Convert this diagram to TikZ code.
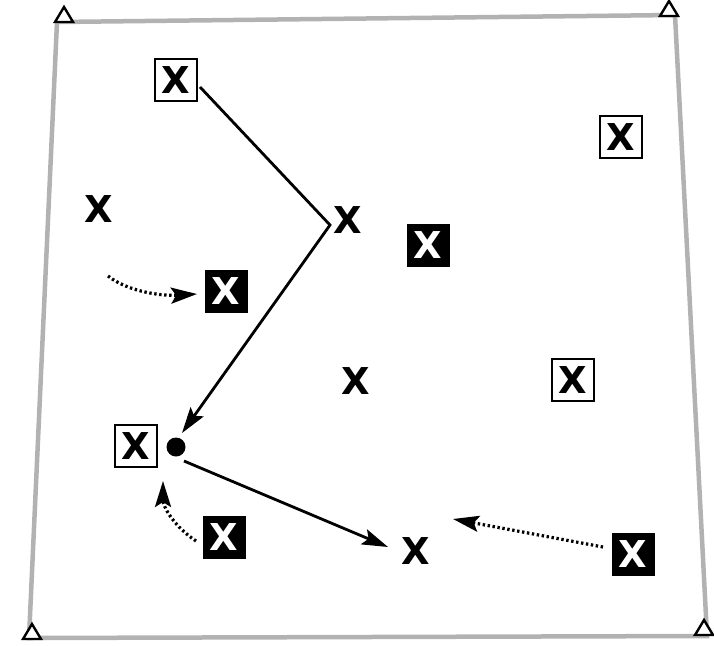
\documentclass[tikz,border=0pt]{standalone}
\usepackage{fontspec}
\newfontfamily\xfont{DejaVu Sans}
\usetikzlibrary{arrows.meta,calc}
\begin{document}
\begin{tikzpicture}[x=1pt,y=-1pt,
  field/.style={draw=gray!60,line width=4.5pt,line join=miter},
  conetri/.style={line width=2.4pt,fill=white,line join=miter},
  xmark/.style={font=\xfont\bfseries\fontsize{37}{37}\selectfont,inner sep=0pt},
  attbox/.style={xmark,draw=black,line width=1.3pt,minimum size=42pt,fill=white},
  defbox/.style={xmark,text=white,fill=black,draw=black,minimum size=42pt},
  freex/.style={xmark},
  headtip/.tip={Stealth[length=26pt,width=16pt,inset=5pt]},
  runline/.style={line width=2.8pt,-headtip},
  passline/.style={line width=3.2pt,dash pattern=on 2.4pt off 2.6pt,-headtip}
]
\useasboundingbox (0,0) rectangle (714,645);
% field
\coordinate (tl) at (57,22);
\coordinate (tr) at (675,15);
\coordinate (br) at (707,636);
\coordinate (bl) at (29,638);
\draw[field] (tl) -- (tr) -- (br) -- (bl) -- cycle;
% cones
\foreach \p in {(64,15),(669,9),(32,632),(704,628)}{
  \draw[conetri] \p ++(0,-8) -- ++(9,15) -- ++(-18,0) -- cycle;
}
% attackers in outlined boxes
\node[attbox] (a1) at (176,80) {X};
\node[attbox] (a2) at (621,137) {X};
\node[attbox] (a3) at (573,380) {X};
\node[attbox] (a4) at (136,446) {X};
% defenders in black boxes
\node[defbox] (d1) at (226,291) {X};
\node[defbox] (d2) at (428,245) {X};
\node[defbox] (d3) at (224,537) {X};
\node[defbox] (d4) at (633,554) {X};
% free players
\node[freex] (f1) at (99,209) {X};
\node[freex] (f2) at (348,220) {X};
\node[freex] (f3) at (356,381) {X};
\node[freex] (f4) at (416,551) {X};
% ball
\node[circle,fill=black,minimum size=19pt,inner sep=0pt] (ball) at (176,447) {};
% runs
\coordinate (s1) at (200,87);
\coordinate (turn) at (330,225);
\coordinate (r2) at (388,547);
\draw[runline] (s1) -- (turn) -- ($(ball)+(6,-14)$);
\draw[runline] ($(ball)+(8,14)$) -- (r2);
% passes / movements
\coordinate (p1s) at (108,276);
\coordinate (p1e) at (197,294);
\draw[passline] (p1s) .. controls (130,293) and (165,296) .. (p1e);
\coordinate (p2s) at (196,541);
\coordinate (p2e) at (163,481);
\draw[passline] (p2s) .. controls (172,525) and (163,505) .. (p2e);
\coordinate (p3s) at (603,547);
\coordinate (p3e) at (453,519);
\draw[passline] (p3s) -- (p3e);
\end{tikzpicture}
\end{document}
